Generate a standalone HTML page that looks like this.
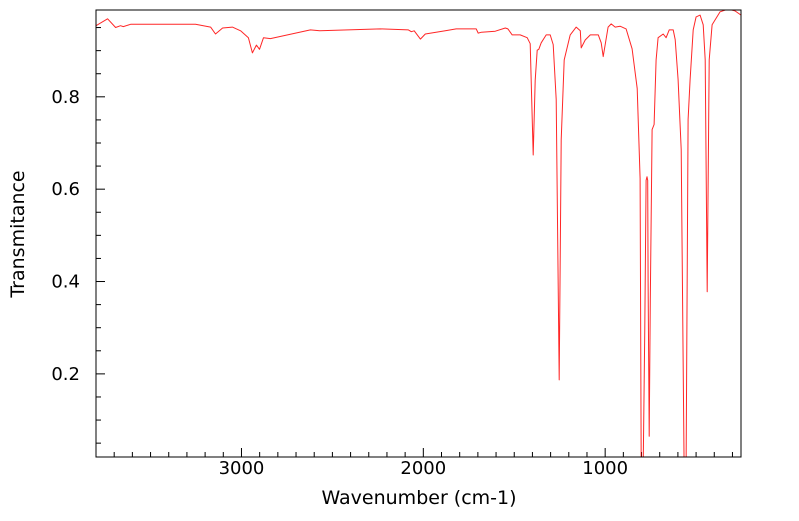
<!DOCTYPE html>
<html><head><meta charset="utf-8"><style>
html,body{margin:0;padding:0;background:#fff;}
svg text{font-family:"DejaVu Sans","Liberation Sans",sans-serif;fill:#000;}
</style></head><body>
<svg id="chart" width="799" height="516" xmlns="http://www.w3.org/2000/svg">
<defs><clipPath id="clip"><rect x="96" y="10" width="645" height="447"/></clipPath></defs>
<g id="ticks"></g>
<polyline id="line" fill="none" stroke="#ff0000" stroke-width="1" stroke-opacity="0.85" stroke-linejoin="round" clip-path="url(#clip)"/>
<rect x="96" y="10" width="645" height="447" fill="none" stroke="#000" stroke-width="1"/>
<text x="419" y="504" font-size="19" text-anchor="middle">Wavenumber (cm-1)</text>
<text transform="translate(24,234) rotate(-90)" font-size="19" text-anchor="middle">Transmitance</text>
</svg>
<script>
const wavenumbers=[3800,3736,3692,3665,3650,3610,3253,3170,3143,3104,3050,3005,2962,2940,2918,2901,2879,2841,2621,2570,2236,2082,2066,2050,2016,1989,1879,1819,1709,1698,1680,1604,1549,1535,1511,1467,1429,1412,1396,1385,1374,1365,1352,1324,1302,1286,1269,1253,1242,1225,1192,1159,1137,1132,1110,1082,1038,1022,1011,1000,984,967,945,918,885,852,824,808,802,791,782,775,770,766,764,758,752,742,731,720,709,681,665,648,626,615,599,582,566,555,544,533,516,500,478,461,450,439,428,412,368,324,286,253];
const transmittance=[0.954,0.969,0.950,0.954,0.952,0.957,0.957,0.951,0.936,0.949,0.951,0.943,0.928,0.895,0.912,0.903,0.928,0.926,0.945,0.943,0.947,0.945,0.941,0.943,0.925,0.936,0.943,0.947,0.947,0.938,0.940,0.942,0.949,0.947,0.934,0.934,0.928,0.915,0.674,0.836,0.901,0.903,0.917,0.934,0.934,0.913,0.794,0.187,0.707,0.880,0.934,0.951,0.943,0.906,0.923,0.934,0.934,0.917,0.887,0.913,0.951,0.958,0.951,0.953,0.947,0.904,0.818,0.623,0.0,0.0,0.3,0.619,0.627,0.619,0.400,0.065,0.36,0.729,0.740,0.880,0.928,0.936,0.928,0.945,0.945,0.924,0.837,0.686,0.0,0.0,0.751,0.837,0.945,0.973,0.977,0.956,0.880,0.378,0.880,0.956,0.984,0.990,0.986,0.977];
const xTicks=[1000,2000,3000];
const yTicks=[0.2,0.4,0.6,0.8];
const X0=3800,X1=253,Y0=0.02,Y1=0.988;
const L=96,R=741,T=10,B=457;
const sx=v=>L+(X0-v)/(X0-X1)*(R-L);
const sy=v=>B-(v-Y0)/(Y1-Y0)*(B-T);
const NS="http://www.w3.org/2000/svg";
const line=document.getElementById('line');
line.setAttribute('points',wavenumbers.map((w,i)=>sx(w).toFixed(1)+','+sy(transmittance[i]).toFixed(1)).join(' '));
const g=document.getElementById('ticks');
function mk(tag,attrs){const e=document.createElementNS(NS,tag);for(const k in attrs)e.setAttribute(k,attrs[k]);g.appendChild(e);return e;}
for(let w=300;w<=3800;w+=100){const x=sx(w);if(x<L||x>R)continue;const major=w%1000===0;
const t=mk('line',{x1:x,x2:x,y1:B,y2:B-(major?9:5),stroke:'#000','stroke-width':1});

}
xTicks.forEach(v=>{const t=mk('text',{x:sx(v),y:474,'font-size':18,'text-anchor':'middle'});t.textContent=v;

});
for(let k=1;k<=19;k++){const v=k*0.05;const y=sy(v);if(y<T||y>B)continue;const major=k%4===0;
const t=mk('line',{x1:L,x2:L+(major?9:5),y1:y,y2:y,stroke:'#000','stroke-width':1});

}
yTicks.forEach(v=>{const t=mk('text',{x:80,y:sy(v)+6,'font-size':18,'text-anchor':'end'});t.textContent=v.toFixed(1);

});
</script>
</body></html>
